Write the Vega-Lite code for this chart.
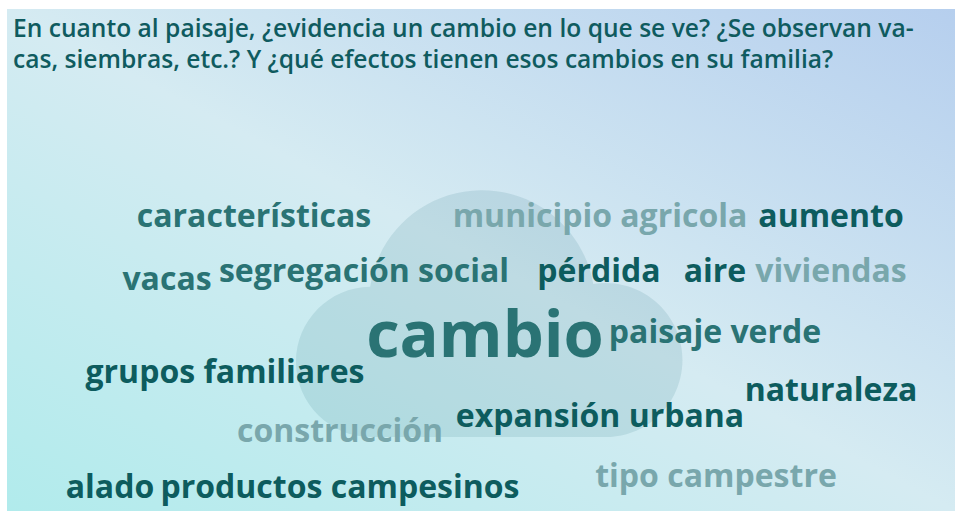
{
  "$schema": "https://vega.github.io/schema/vega-lite/v6.json",
  "width": 948,
  "height": 502,
  "autosize": "none",
  "padding": {"top": 9, "left": 7, "right": 0, "bottom": 0},
  "background": "white",
  "view": {
    "fill": {"gradient": "linear", "x1": 0, "y1": 1, "x2": 1, "y2": 0,
      "stops": [{"offset": 0, "color": "#b1ebec"}, {"offset": 0.5, "color": "#d5ebf2"}, {"offset": 1, "color": "#b6cfee"}]},
    "stroke": null
  },
  "datasets": {
    "cloud": [{"x": 488, "y": 313}],
    "heading": [
      {"line": "En cuanto al paisaje, ¿evidencia un cambio en lo que se ve? ¿Se observan va-", "x": 13, "y": 37},
      {"line": "cas, siembras, etc.? Y ¿qué efectos tienen esos cambios en su familia?", "x": 13, "y": 68}
    ],
    "words": [
      {"word": "características", "x": 254, "y": 227, "weight": 1, "tone": "medium"},
      {"word": "municipio agricola", "x": 600, "y": 227, "weight": 1, "tone": "light"},
      {"word": "aumento", "x": 831, "y": 227, "weight": 1, "tone": "dark"},
      {"word": "vacas", "x": 167, "y": 290, "weight": 1, "tone": "medium"},
      {"word": "segregación social", "x": 364, "y": 282, "weight": 1, "tone": "medium"},
      {"word": "pérdida", "x": 599, "y": 282, "weight": 1, "tone": "dark"},
      {"word": "aire", "x": 715, "y": 282, "weight": 1, "tone": "dark"},
      {"word": "viviendas", "x": 831, "y": 282, "weight": 1, "tone": "light"},
      {"word": "cambio", "x": 485, "y": 357, "weight": 3, "tone": "medium"},
      {"word": "paisaje verde", "x": 715, "y": 343, "weight": 1, "tone": "medium"},
      {"word": "grupos familiares", "x": 225, "y": 383, "weight": 1, "tone": "dark"},
      {"word": "naturaleza", "x": 831, "y": 401, "weight": 1, "tone": "dark"},
      {"word": "construcción", "x": 340, "y": 442, "weight": 1, "tone": "light"},
      {"word": "expansión urbana", "x": 600, "y": 427, "weight": 1, "tone": "dark"},
      {"word": "alado", "x": 110, "y": 498, "weight": 1, "tone": "dark"},
      {"word": "productos campesinos", "x": 340, "y": 498, "weight": 1, "tone": "dark"},
      {"word": "tipo campestre", "x": 716, "y": 487, "weight": 1, "tone": "light"}
    ]
  },
  "layer": [
    {
      "data": {"name": "cloud"},
      "mark": {
        "type": "point",
        "shape": "M -0.595 0.636 A 0.385 0.385 0 0 1 -0.604 -0.134 A 0.579 0.579 0 0 1 0.5395 -0.149 A 0.395 0.395 0 1 1 0.6 0.636 Z",
        "size": 152100,
        "filled": true,
        "fill": "#3d7d8f",
        "fillOpacity": 0.15,
        "opacity": 1,
        "strokeWidth": 0
      },
      "encoding": {
        "x": {"field": "x", "type": "quantitative", "scale": {"domain": [7, 955], "nice": false, "zero": false}, "axis": null},
        "y": {"field": "y", "type": "quantitative", "scale": {"domain": [9, 511], "reverse": true, "nice": false, "zero": false}, "axis": null}
      }
    },
    {
      "data": {"name": "heading"},
      "mark": {"type": "text", "align": "left", "baseline": "alphabetic", "font": "Open Sans", "fontWeight": 600, "fontSize": 24.6, "color": "#0f5b5f"},
      "encoding": {
        "x": {"field": "x", "type": "quantitative"},
        "y": {"field": "y", "type": "quantitative"},
        "text": {"field": "line"}
      }
    },
    {
      "data": {"name": "words"},
      "mark": {"type": "text", "align": "center", "baseline": "alphabetic", "font": "Open Sans", "fontWeight": "bold"},
      "encoding": {
        "x": {"field": "x", "type": "quantitative"},
        "y": {"field": "y", "type": "quantitative"},
        "text": {"field": "word"},
        "size": {"field": "weight", "type": "quantitative", "scale": {"domain": [1, 3], "range": [32, 65]}, "legend": null},
        "color": {"field": "tone", "type": "nominal", "scale": {"domain": ["dark", "medium", "light"], "range": ["#0d5c5e", "#2a7374", "#79a7ac"]}, "legend": null}
      }
    }
  ]
}
